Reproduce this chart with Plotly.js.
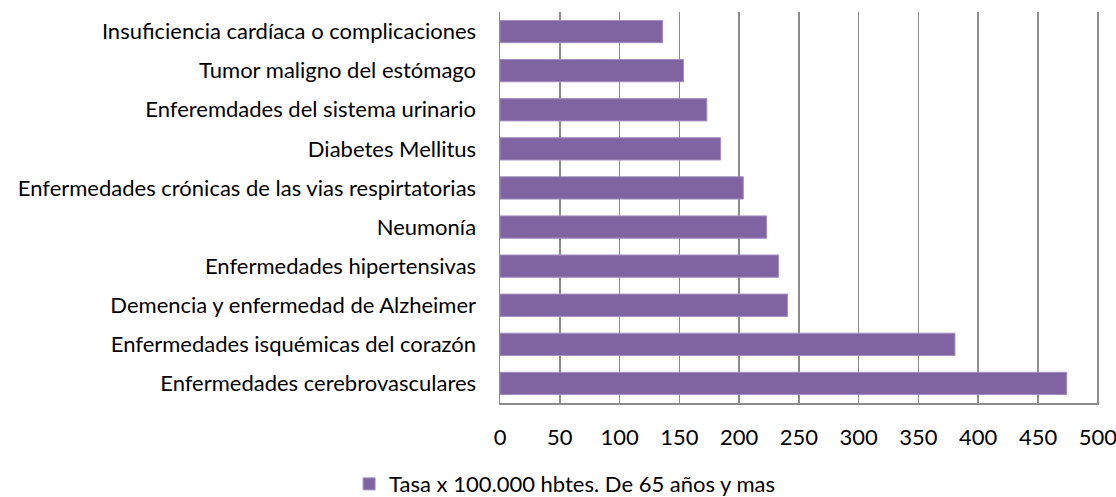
<!DOCTYPE html>
<html>
<head>
<meta charset="utf-8">
<script src="https://cdn.plot.ly/plotly-3.0.1.min.js"></script>
<style>html,body{margin:0;padding:0;background:#fff;}#chart{width:1116px;height:497px;}</style>
</head>
<body>
<div id="chart"></div>
<script>
const categories = [
  "Enfermedades cerebrovasculares",
  "Enfermedades isquémicas del corazón",
  "Demencia y enfermedad de Alzheimer",
  "Enfermedades hipertensivas",
  "Neumonía",
  "Enfermedades crónicas de las vias respirtatorias",
  "Diabetes Mellitus",
  "Enferemdades del sistema urinario",
  "Tumor maligno del estómago",
  "Insuficiencia cardíaca o complicaciones"
];
const values = [474, 380.5, 240.5, 233, 223, 203.5, 184.5, 173, 153.5, 136];
const seriesName = "Tasa x 100.000 hbtes. De 65 años y mas";
const xTicks = [0, 50, 100, 150, 200, 250, 300, 350, 400, 450, 500];

const font = "Lato, 'Open Sans', sans-serif";
Plotly.newPlot('chart', [{
  type: 'bar',
  orientation: 'h',
  y: categories,
  x: values,
  name: seriesName,
  marker: {color: '#8064A2', line: {color: '#a38fc0', width: 1}},
  showlegend: true
}], {
  width: 1116, height: 497,
  margin: {l: 500, r: 17, t: 12, b: 94, autoexpand: false},
  paper_bgcolor: '#fff', plot_bgcolor: '#fff',
  font: {family: font, size: 22, color: '#000'},
  bargap: 0.43,
  xaxis: {
    range: [0, 501], tickvals: xTicks, ticktext: xTicks.map(String),
    showgrid: true, gridcolor: '#8c8c8c', gridwidth: 1.5,
    showline: true, linecolor: '#8c8c8c', linewidth: 1.5,
    zeroline: false, ticks: '', ticklabelstandoff: 14, ticklabeloverflow: 'allow',
    tickfont: {size: 22}, fixedrange: true, automargin: false
  },
  yaxis: {
    categoryorder: 'array', categoryarray: categories,
    tickmode: 'linear', dtick: 1,
    showline: true, linecolor: '#8c8c8c', linewidth: 1.5,
    showgrid: false, ticks: '', ticklabelstandoff: 18,
    tickfont: {size: 22}, fixedrange: true, automargin: false
  },
  legend: {orientation: 'h', x: 0.3128, xref: 'container', xanchor: 'left', y: 0.026, yref: 'container', yanchor: 'middle',
    font: {size: 22}, itemwidth: 30},
  showlegend: true
}, {displayModeBar: false, staticPlot: true});
</script>
</body>
</html>
